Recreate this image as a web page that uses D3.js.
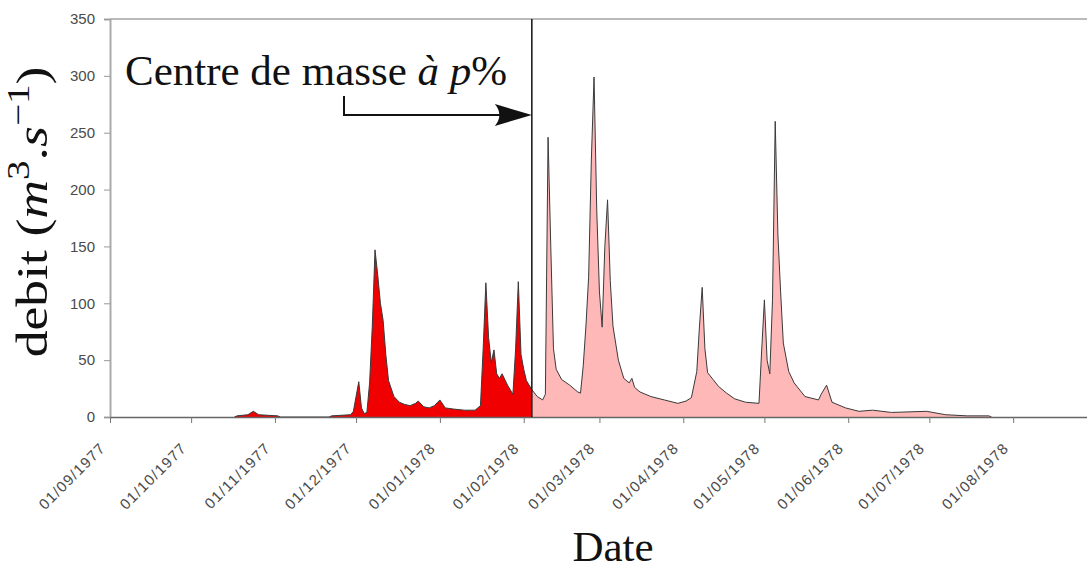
<!DOCTYPE html>
<html>
<head>
<meta charset="utf-8">
<script src="https://cdn.jsdelivr.net/npm/d3@7"></script>
<style>
  body { margin: 0; background: #fff; }
  svg { display: block; }
</style>
</head>
<body>
<svg id="chart" width="1087" height="570"></svg>
<script>
"use strict";

// daily flow (m3/s)
const dates = [
    "1977-10-17", "1977-10-18", "1977-10-22", "1977-10-24", "1977-10-26", "1977-11-02", "1977-11-03",
    "1977-11-21", "1977-11-22", "1977-11-29", "1977-11-30", "1977-12-02", "1977-12-03", "1977-12-04",
    "1977-12-05", "1977-12-06", "1977-12-07", "1977-12-08", "1977-12-09", "1977-12-10", "1977-12-11",
    "1977-12-12", "1977-12-13", "1977-12-15", "1977-12-17", "1977-12-19", "1977-12-21", "1977-12-23",
    "1977-12-24", "1977-12-26", "1977-12-28", "1977-12-30", "1978-01-01", "1978-01-03", "1978-01-06",
    "1978-01-10", "1978-01-14", "1978-01-16", "1978-01-17", "1978-01-18", "1978-01-19", "1978-01-20",
    "1978-01-21", "1978-01-22", "1978-01-23", "1978-01-24", "1978-01-26", "1978-01-28", "1978-01-29",
    "1978-01-30", "1978-01-31", "1978-02-01", "1978-02-02", "1978-02-04", "1978-02-06", "1978-02-08",
    "1978-02-09", "1978-02-10", "1978-02-11", "1978-02-12", "1978-02-13", "1978-02-15", "1978-02-18",
    "1978-02-21", "1978-02-22", "1978-02-23", "1978-02-24", "1978-02-25", "1978-02-26", "1978-02-27",
    "1978-02-28", "1978-03-01", "1978-03-02", "1978-03-03", "1978-03-04", "1978-03-05", "1978-03-06",
    "1978-03-08", "1978-03-10", "1978-03-12", "1978-03-13", "1978-03-14", "1978-03-16", "1978-03-20",
    "1978-03-25", "1978-03-30", "1978-04-02", "1978-04-04", "1978-04-06", "1978-04-07", "1978-04-08",
    "1978-04-09", "1978-04-10", "1978-04-12", "1978-04-14", "1978-04-17", "1978-04-20", "1978-04-24",
    "1978-04-29", "1978-04-30", "1978-05-01", "1978-05-02", "1978-05-03", "1978-05-04", "1978-05-05",
    "1978-05-06", "1978-05-07", "1978-05-08", "1978-05-10", "1978-05-12", "1978-05-16", "1978-05-21",
    "1978-05-22", "1978-05-24", "1978-05-26", "1978-05-31", "1978-06-05", "1978-06-10", "1978-06-17",
    "1978-06-30", "1978-07-07", "1978-07-15", "1978-07-23", "1978-07-24"
];
const flows = [
    0, 1, 2, 5, 2, 1, 0,
    0, 1, 2, 5, 31, 8, 3,
    4, 30, 80, 147, 125, 100, 85,
    55, 32, 18, 13, 11, 10, 12,
    14, 9, 8, 10, 15, 8, 7,
    6, 6, 10, 60, 118, 70, 48,
    59, 38, 34, 38, 28, 20, 60,
    119, 55, 42, 32, 24, 18, 15,
    20, 246, 150, 60, 42, 33, 28,
    22, 21, 45, 80, 123, 226, 299,
    182, 110, 79, 150, 191, 120, 80,
    50, 34, 30, 34, 26, 22, 18,
    15, 12, 14, 17, 40, 80, 114,
    60, 39, 33, 27, 21, 16, 13,
    12, 59, 103, 50, 38, 103, 260,
    160, 110, 65, 40, 30, 18, 15,
    20, 28, 13, 8, 5, 6, 4,
    5, 2, 1, 1, 0
];
const centreDate = "1978-02-04";
const yTicks = [0, 50, 100, 150, 200, 250, 300, 350];
const xStart = "1977-09-01";
const xEnd = "1978-09-01";

const parse = d3.timeParse("%Y-%m-%d");
const series = dates.map((d, i) => ({ date: parse(d), q: flows[i] }));

const svg = d3.select("#chart"),
    plotLeft = 110, plotRight = 1097, plotTop = 19, plotBottom = 417;

const x = d3.scaleTime().domain([parse(xStart), parse(xEnd)]).range([plotLeft, plotRight]);
const y = d3.scaleLinear().domain([0, 350]).range([plotBottom, plotTop]);
const xc = x(parse(centreDate));

svg.append("rect").attr("width", 1087).attr("height", 570).attr("fill", "#fff");

const defs = svg.append("defs");
defs.append("clipPath").attr("id", "before")
    .append("rect").attr("x", plotLeft).attr("y", 0).attr("width", xc - plotLeft).attr("height", plotBottom + 1);
defs.append("clipPath").attr("id", "after")
    .append("rect").attr("x", xc).attr("y", 0).attr("width", plotRight - xc).attr("height", plotBottom + 1);

const area = d3.area().x(d => x(d.date)).y0(y(0)).y1(d => y(d.q));
const line = d3.line().x(d => x(d.date)).y(d => y(d.q));

svg.append("path").datum(series).attr("d", area)
    .attr("fill", "#f00000").attr("clip-path", "url(#before)");
svg.append("path").datum(series).attr("d", area)
    .attr("fill", "#ffb8b8").attr("clip-path", "url(#after)");
svg.append("path").datum(series).attr("d", line)
    .attr("fill", "none").attr("stroke", "#3a3a3a").attr("stroke-width", 1);

// top frame line
svg.append("line").attr("x1", plotLeft).attr("x2", 1087).attr("y1", plotTop).attr("y2", plotTop)
    .attr("stroke", "#777").attr("stroke-width", 1.2);

// axes
const yAxis = svg.append("g").attr("transform", `translate(${plotLeft},0)`)
    .call(d3.axisLeft(y).tickValues(yTicks).tickSize(6).tickPadding(9));
yAxis.select(".domain").attr("stroke", "#aaa").attr("stroke-width", 2);
yAxis.selectAll(".tick line").attr("stroke", "#999");
yAxis.selectAll("text").attr("font-family", "Liberation Sans, Arial, sans-serif")
    .attr("font-size", 15).attr("fill", "#4a4a4a");

const months = d3.timeMonth.range(parse(xStart), parse("1978-08-02"));
const xAxis = svg.append("g").attr("transform", `translate(0,${plotBottom})`)
    .call(d3.axisBottom(x).tickValues(months).tickFormat(d3.timeFormat("%d/%m/%Y")).tickSize(6).tickSizeOuter(0));
xAxis.select(".domain").attr("stroke", "#666").attr("stroke-width", 1.5);
xAxis.selectAll(".tick line").attr("stroke", "#777");
xAxis.selectAll("text")
    .attr("x", 0).attr("y", 0).attr("dy", null)
    .attr("text-anchor", "end")
    .attr("transform", "translate(-4,32) rotate(-45)")
    .attr("font-family", "Liberation Sans, Arial, sans-serif")
    .attr("font-size", 15).attr("letter-spacing", 1.2).attr("fill", "#4a4a4a");

// centre of mass line
svg.append("line").attr("x1", xc).attr("x2", xc).attr("y1", plotTop).attr("y2", plotBottom)
    .attr("stroke", "#111").attr("stroke-width", 1.5);

// annotation
const serif = "Liberation Serif, Times New Roman, serif";
const note = svg.append("text").attr("x", 125).attr("y", 85)
    .attr("font-family", serif).attr("font-size", 43).attr("fill", "#111");
note.append("tspan").text("Centre de masse ");
note.append("tspan").attr("font-style", "italic").text("à p");
note.append("tspan").text("%");

const ay = 115, ax = 344;
svg.append("path")
    .attr("d", `M${ax},96 V${ay} H${xc - 30}`)
    .attr("fill", "none").attr("stroke", "#111").attr("stroke-width", 2);
svg.append("path")
    .attr("d", `M${xc},${ay} L${xc - 37},${ay - 11} Q${xc - 28},${ay} ${xc - 37},${ay + 11} Z`)
    .attr("fill", "#111");

// axis titles
const ylab = svg.append("text")
    .attr("transform", "translate(47,212) rotate(-90) scale(1.22,1)")
    .attr("text-anchor", "middle")
    .attr("font-family", serif).attr("font-size", 44).attr("fill", "#111");
ylab.append("tspan").text("debit (");
ylab.append("tspan").attr("font-style", "italic").text("m");
ylab.append("tspan").attr("font-size", 32).attr("dy", -18).text("3");
ylab.append("tspan").attr("dy", 18).text(".");
ylab.append("tspan").attr("font-style", "italic").text("s");
ylab.append("tspan").attr("font-size", 32).attr("dy", -18).text("−1");
ylab.append("tspan").attr("dy", 18).text(")");

svg.append("text").attr("x", 613).attr("y", 561)
    .attr("text-anchor", "middle")
    .attr("font-family", serif).attr("font-size", 43).attr("fill", "#111")
    .text("Date");
</script>
</body>
</html>
